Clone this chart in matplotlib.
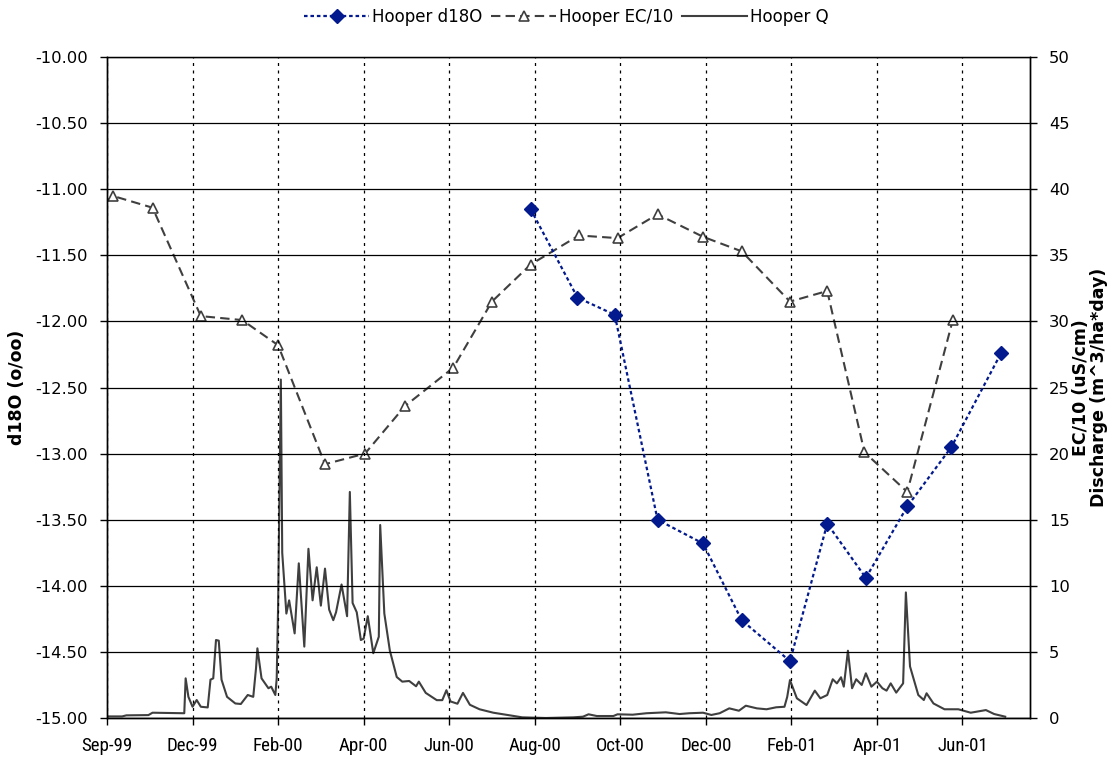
import matplotlib
matplotlib.use("Agg")
import matplotlib.pyplot as plt
import matplotlib.dates as mdates
from matplotlib import font_manager
from matplotlib.ticker import FixedLocator, FormatStrFormatter
from matplotlib.lines import Line2D
import pandas as pd

# ---- Hooper catchment data ----
d18o_dates = ['2000-08-02', '2000-09-05', '2000-10-02', '2000-11-02', '2000-12-05', '2001-01-02',
              '2001-02-06', '2001-03-05', '2001-04-02', '2001-05-02', '2001-06-03', '2001-07-09']
d18o_vals = [-11.15, -11.82, -11.95, -13.50, -13.68, -14.26,
             -14.57, -13.53, -13.94, -13.40, -12.95, -12.24]

ec_dates = ['1999-09-07', '1999-10-04', '1999-11-02', '1999-12-07', '2000-01-06', '2000-02-01',
            '2000-03-06', '2000-04-04', '2000-05-03', '2000-06-07', '2000-07-05', '2000-08-02',
            '2000-09-06', '2000-10-04', '2000-11-02', '2000-12-05', '2001-01-02', '2001-02-06',
            '2001-03-05', '2001-04-01', '2001-05-02', '2001-06-04']
ec_vals = [36.6, 39.5, 38.6, 30.4, 30.1, 28.2,
           19.2, 20.0, 23.6, 26.5, 31.5, 34.3,
           36.5, 36.3, 38.1, 36.4, 35.3, 31.5,
           32.3, 20.1, 17.1, 30.1]

q_dates = ['1999-09-30', '1999-10-11', '1999-10-14', '1999-10-30', '1999-11-02', '1999-11-25',
           '1999-11-26', '1999-11-28', '1999-12-01', '1999-12-04', '1999-12-07', '1999-12-12',
           '1999-12-14', '1999-12-16', '1999-12-18', '1999-12-20', '1999-12-22', '1999-12-26',
           '2000-01-01', '2000-01-05', '2000-01-10', '2000-01-14', '2000-01-16', '2000-01-17',
           '2000-01-20', '2000-01-25', '2000-01-27', '2000-01-30', '2000-01-31',
           '2000-02-01', '2000-02-03', '2000-02-04', '2000-02-07', '2000-02-09', '2000-02-13',
           '2000-02-16', '2000-02-20', '2000-02-23', '2000-02-26', '2000-02-29',
           '2000-03-03', '2000-03-06', '2000-03-09', '2000-03-12', '2000-03-14', '2000-03-18',
           '2000-03-22', '2000-03-24', '2000-03-26', '2000-03-29',
           '2000-04-01', '2000-04-03', '2000-04-06', '2000-04-10', '2000-04-14', '2000-04-15',
           '2000-04-18', '2000-04-22', '2000-04-27',
           '2000-05-01', '2000-05-06', '2000-05-11', '2000-05-13', '2000-05-18', '2000-05-26',
           '2000-05-30',
           '2000-06-02', '2000-06-05', '2000-06-10', '2000-06-14', '2000-06-19', '2000-06-26',
           '2000-07-06', '2000-07-15', '2000-07-27', '2000-08-13',
           '2000-09-02', '2000-09-09', '2000-09-13', '2000-09-19',
           '2000-10-01', '2000-10-04', '2000-10-15', '2000-10-25',
           '2000-11-08', '2000-11-18', '2000-11-25',
           '2000-12-05', '2000-12-11', '2000-12-17', '2000-12-24', '2000-12-31',
           '2001-01-05', '2001-01-13', '2001-01-20', '2001-01-27',
           '2001-02-02', '2001-02-04', '2001-02-06', '2001-02-11', '2001-02-18', '2001-02-24',
           '2001-02-28',
           '2001-03-05', '2001-03-09', '2001-03-12', '2001-03-15', '2001-03-17', '2001-03-20',
           '2001-03-23', '2001-03-26', '2001-03-30',
           '2001-04-02', '2001-04-06', '2001-04-10', '2001-04-14', '2001-04-17', '2001-04-20',
           '2001-04-24', '2001-04-29',
           '2001-05-01', '2001-05-04', '2001-05-10', '2001-05-14', '2001-05-16', '2001-05-21',
           '2001-05-29',
           '2001-06-08', '2001-06-17', '2001-06-28', '2001-07-04', '2001-07-12']
q_vals = [0.12, 0.12, 0.2, 0.22, 0.4, 0.36,
          3.0, 1.6, 0.85, 1.36, 0.85, 0.8,
          2.9, 3.0, 5.9, 5.85, 2.9, 1.6,
          1.1, 1.06, 1.74, 1.6, 3.76, 5.27,
          3.0, 2.25, 2.37, 1.74, 3.0,
          8.4, 25.6, 12.5, 7.9, 8.9, 6.4,
          11.7, 5.4, 12.8, 8.9, 11.4,
          8.5, 11.3, 8.2, 7.4, 8.0, 10.1,
          7.7, 17.1, 8.7, 8.0,
          5.9, 6.0, 7.7, 4.9, 6.15, 14.6,
          7.9, 5.1, 3.1,
          2.75, 2.8, 2.4, 2.75, 1.9, 1.35,
          1.35,
          2.1, 1.25, 1.08, 1.9, 1.0, 0.66,
          0.4, 0.25, 0.05, 0.0,
          0.05, 0.1, 0.28, 0.15,
          0.15, 0.28, 0.25, 0.36,
          0.43, 0.3, 0.36,
          0.4, 0.23, 0.36, 0.73, 0.55,
          0.93, 0.73, 0.66, 0.81,
          0.85, 1.6, 2.87, 1.49, 0.98, 2.07,
          1.49,
          1.74, 2.93, 2.62, 3.08, 2.37, 5.09,
          2.25, 2.93, 2.5,
          3.38, 2.37, 2.75, 2.25, 2.07, 2.62,
          1.92, 2.62,
          9.5, 3.9, 1.74, 1.36, 1.87, 1.1,
          0.66,
          0.66, 0.4, 0.6, 0.3, 0.1]

left_ticks = [-15.0, -14.5, -14.0, -13.5, -13.0, -12.5, -12.0, -11.5, -11.0, -10.5, -10.0]
right_ticks = [0, 5, 10, 15, 20, 25, 30, 35, 40, 45, 50]

# date axis: ticks every 62 days from the axis start
axis_start = pd.Timestamp('1999-09-30')
axis_span_days = 668.6
tick_step_days = 62
n_ticks = 11

plt.rcParams['font.family'] = ['DejaVu Sans']


def narrow_font():
    """Pick a narrow sans face for the date labels if one is installed."""
    entries = font_manager.fontManager.ttflist
    names = {f.name for f in entries}
    for fam in ('Liberation Sans Narrow', 'Arial Narrow', 'Roboto Condensed',
                'Open Sans Condensed', 'Noto Sans Condensed'):
        if fam in names:
            return dict(family=fam, fontsize=13.6)
    for f in entries:
        if f.name == 'DejaVu Sans' and f.stretch == 'condensed' and f.weight in (400, 'normal'):
            return dict(family='DejaVu Sans', fontstretch='condensed', fontsize=12)
    if 'Roboto' in names:
        return dict(family='Roboto', fontsize=12)
    return dict(family='DejaVu Sans', fontsize=11)


fig = plt.figure(figsize=(11.16, 7.57), dpi=100)
W, H = 1116, 757
ax1 = fig.add_axes([107 / W, 1 - 718 / H, (1029.5 - 107) / W, (718 - 57) / H])
ax2 = ax1.twinx()

navy = '#031a8f'
grey = '#3f3f3f'

d18o_x = pd.to_datetime(d18o_dates)
ec_x = pd.to_datetime(ec_dates)
q_x = pd.to_datetime(q_dates)

ax2.plot(q_x, q_vals, color=grey, lw=1.5, solid_joinstyle='round')
ax2.plot(ec_x, ec_vals, color=grey, lw=1.5, dashes=(4.5, 2.5),
         marker='^', ms=7, mfc='white', mec=grey, mew=1.2)
ax1.plot(d18o_x, d18o_vals, color=navy, lw=1.6, dashes=(1.6, 1.3),
         marker='D', ms=7, mfc=navy, mec=navy)
ax1.set_zorder(ax2.get_zorder() + 1)
ax1.patch.set_visible(False)

# x axis
x0 = mdates.date2num(axis_start)
ax1.set_xlim(x0, x0 + axis_span_days)
ticks = [x0 + tick_step_days * k for k in range(n_ticks)]
ax1.xaxis.set_major_locator(FixedLocator(ticks))
ax1.xaxis.set_major_formatter(mdates.DateFormatter('%b-%y'))

# y axes
ax1.set_ylim(-15, -10)
ax1.yaxis.set_major_locator(FixedLocator(left_ticks))
ax1.yaxis.set_major_formatter(FormatStrFormatter('%.2f'))
ax2.set_ylim(0, 50)
ax2.yaxis.set_major_locator(FixedLocator(right_ticks))

# grid: solid horizontal, dotted vertical
ax1.yaxis.grid(True, color='black', lw=0.9, ls='-')
ax1.xaxis.grid(True, color='black', lw=0.9, ls=(0, (2.4, 3.6)))
ax2.grid(False)

for ax in (ax1, ax2):
    for s in ax.spines.values():
        s.set_color('black')
        s.set_linewidth(1.0)
    ax.spines['top'].set_linewidth(0.9)

ax1.tick_params(axis='y', direction='out', length=5, width=1, labelsize=11.8, pad=9, colors='black')
ax2.tick_params(axis='y', direction='out', length=5, width=1, labelsize=11.8, pad=9, colors='black')
ax1.tick_params(axis='x', direction='out', length=5, width=1, pad=9, colors='black')
xfont = narrow_font()
for lbl in ax1.get_xticklabels():
    lbl.set_family(xfont['family'])
    lbl.set_fontsize(xfont['fontsize'])
    if 'fontstretch' in xfont:
        lbl.set_fontstretch(xfont['fontstretch'])

ax1.set_ylabel('d18O (o/oo)', fontsize=12.5, fontweight='bold')
ax1.yaxis.set_label_coords((26 - 107) / (1029.5 - 107), 0.5)
ax2.set_ylabel('EC/10 (uS/cm)\nDischarge (m^3/ha*day)', fontsize=12.5, fontweight='bold',
               multialignment='center', linespacing=1.0)
ax2.yaxis.set_label_coords((1072 - 107) / (1029.5 - 107), 0.5)

handles = [
    Line2D([], [], color=navy, lw=1.6, dashes=(1.6, 1.3), marker='D', ms=7, mfc=navy, mec=navy),
    Line2D([], [], color=grey, lw=1.5, dashes=(4.5, 2.5), marker='^', ms=7, mfc='white',
           mec=grey, mew=1.2),
    Line2D([], [], color=grey, lw=1.5),
]
fig.legend(handles, ['Hooper d18O', 'Hooper EC/10', 'Hooper Q'], loc='center',
           bbox_to_anchor=((301 + 832) / 2 / W, 1 - 17 / H), ncol=3, frameon=False,
           fontsize=12, handlelength=3.9, handletextpad=0.2, columnspacing=0.5, numpoints=1)

fig.savefig('out.png', dpi=100)
